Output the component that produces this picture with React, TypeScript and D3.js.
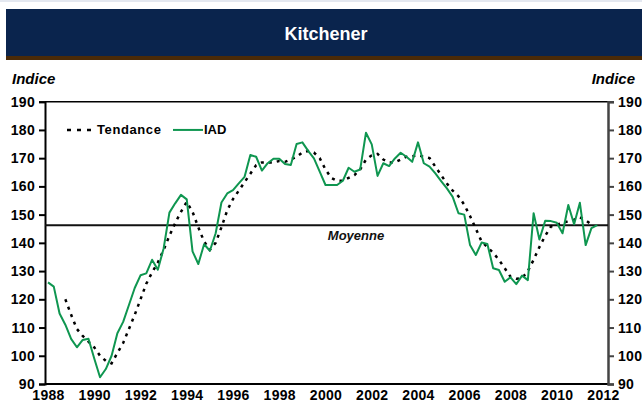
import React, { useRef, useEffect } from 'react';
import * as d3 from 'd3';

// quarterly values, first quarter = 1988 T1
const iadValues: number[] = [
  126, 124.5, 115, 111, 106, 103, 105.6, 106, 99, 92.4,
  95.3, 100, 108, 112, 118, 124, 128.5, 129.2, 134, 130.5,
  138, 150.7, 154, 157, 155.4, 137, 132.5, 139.5, 137.2, 143.4,
  154.3, 157.5, 158.7, 161.1, 163.4, 171.1, 170.5, 165.6, 168.2, 169.8,
  169.8, 167.9, 167.6, 175, 175.6, 172.6, 169.9, 165.2, 160.5, 160.5,
  160.5, 162, 166.6, 165.2, 166, 179, 174.9, 163.7, 168.2, 167.2,
  169.9, 171.9, 170.5, 168.7, 175.6, 168.2, 167, 164.6, 161.9, 159.3,
  156.3, 150.5, 150, 139.2, 135.7, 140.1, 139.6, 131, 130.4, 126.2,
  127.8, 125.4, 128.4, 126.8, 150.5, 141.2, 147.8, 147.7, 147.1, 143.4,
  153.4, 146.6, 154.2, 139.2, 145.2, 146.3,
];

// trend starts at 1988 T4
const tendanceStart = 3;
const tendanceValues: number[] = [
  120, 114.5, 109.5, 107, 105, 103, 100, 98.2, 97.3, 101,
  104.5, 109.5, 114.5, 120, 125.5, 129.5, 133, 137.5, 142.5, 147,
  151, 154.5, 151, 145.5, 140.5, 137.5, 140, 145.5, 151.5, 155.5,
  158.5, 161.5, 164.5, 167.5, 168.5, 168.5, 168.5, 169, 168.7, 169.5,
  170.5, 172, 172.5, 172, 170, 166, 163, 162, 162, 163,
  164, 166, 169.5, 171, 171.5, 169.5, 168.5, 168.5, 169.5, 170.5,
  170.7, 171, 170.5, 170, 167, 164, 161, 158.5, 156.5, 153.5,
  149.5, 145, 140.5, 138.5, 136.5, 134, 131, 128, 127.3, 127.5,
  130, 134, 138.5, 142.5, 145.8, 146.5, 147, 147.7, 148.2, 149,
  148, 146.5,
];

const moyenne = 146.2;
const yTicks = [90, 100, 110, 120, 130, 140, 150, 160, 170, 180, 190];
const yearTicks = [1988, 1990, 1992, 1994, 1996, 1998, 2000, 2002, 2004, 2006, 2008, 2010, 2012];

const W = 642;
const H = 404;
const FONT = '"Liberation Sans", Arial, sans-serif';
const GREEN = '#0f9650';

const App: React.FC = () => {
  const svgRef = useRef<SVGSVGElement | null>(null);

  useEffect(() => {
    if (!svgRef.current) return;
    const svg = d3.select(svgRef.current);
    svg.selectAll('*').remove();

    const left = 45;
    const right = 608;
    const top = 101.7;
    const bottom = 384;

    const x = d3.scaleLinear().domain([1988, 2012]).range([48, 603]);
    const y = d3.scaleLinear().domain([90, 190]).range([bottom, top]);

    // header band
    svg.append('rect').attr('x', 0).attr('y', 0).attr('width', W).attr('height', 2).attr('fill', '#e4e8f0');
    svg.append('rect').attr('x', 6).attr('y', 9).attr('width', W - 6).attr('height', 47).attr('fill', '#0a244d');
    svg.append('rect').attr('x', 6).attr('y', 56).attr('width', W - 6).attr('height', 4).attr('fill', '#4a2a08');
    svg.append('text')
      .attr('x', 326).attr('y', 40)
      .attr('text-anchor', 'middle')
      .attr('fill', '#ffffff')
      .attr('font-family', FONT)
      .attr('font-weight', 'bold')
      .attr('font-size', '18px')
      .text('Kitchener');

    // axis titles
    svg.append('text')
      .attr('x', 12).attr('y', 84)
      .attr('font-family', FONT).attr('font-weight', 'bold').attr('font-style', 'italic')
      .attr('font-size', '15px').attr('fill', '#000')
      .text('Indice');
    svg.append('text')
      .attr('x', 635).attr('y', 84)
      .attr('text-anchor', 'end')
      .attr('font-family', FONT).attr('font-weight', 'bold').attr('font-style', 'italic')
      .attr('font-size', '15px').attr('fill', '#000')
      .text('Indice');

    // frame
    svg.append('line').attr('x1', left).attr('x2', right).attr('y1', top).attr('y2', top)
      .attr('stroke', '#000').attr('stroke-width', 1.5);
    svg.append('line').attr('x1', left).attr('x2', right + 1).attr('y1', bottom).attr('y2', bottom)
      .attr('stroke', '#000').attr('stroke-width', 2);

    const styleTicks = (g: d3.Selection<SVGGElement, unknown, null, undefined>) => {
      g.selectAll('.tick text')
        .attr('font-family', FONT).attr('font-weight', 'bold').attr('font-size', '14px')
        .attr('letter-spacing', '0.3px').attr('fill', '#000');
    };

    const leftAxis = d3.axisLeft(y).tickValues(yTicks).tickSize(6).tickPadding(4);
    const lg = svg.append('g').attr('transform', `translate(${left},0)`).call(leftAxis);
    lg.select('.domain').attr('stroke', '#000').attr('stroke-width', 2);
    lg.selectAll('.tick line').attr('stroke', '#000').attr('stroke-width', 2);
    styleTicks(lg);

    const rightAxis = d3.axisRight(y).tickValues(yTicks).tickSize(6).tickPadding(4);
    const rg = svg.append('g').attr('transform', `translate(${right},0)`).call(rightAxis);
    rg.select('.domain').attr('stroke', '#444').attr('stroke-width', 2.5);
    rg.selectAll('.tick line').attr('stroke', '#444').attr('stroke-width', 2);
    styleTicks(rg);

    const bottomAxis = d3.axisBottom(x).tickValues(yearTicks).tickFormat(d3.format('d')).tickSize(0).tickPadding(6);
    const bg = svg.append('g').attr('transform', `translate(0,${bottom})`).call(bottomAxis);
    bg.select('.domain').remove();
    styleTicks(bg);

    // average line
    svg.append('line')
      .attr('x1', left).attr('x2', right)
      .attr('y1', y(moyenne)).attr('y2', y(moyenne))
      .attr('stroke', '#111').attr('stroke-width', 2);
    svg.append('text')
      .attr('x', 356).attr('y', y(moyenne) + 15)
      .attr('text-anchor', 'middle')
      .attr('font-family', FONT).attr('font-weight', 'bold').attr('font-style', 'italic')
      .attr('font-size', '13px').attr('fill', '#111')
      .text('Moyenne');

    const line = d3.line<[number, number]>()
      .x(d => x(d[0]))
      .y(d => y(d[1]));

    const iadPts: [number, number][] = iadValues.map((v, i) => [1988 + i / 4, v]);
    const tendPts: [number, number][] = tendanceValues.map((v, i) => [1988 + (i + tendanceStart) / 4, v]);

    svg.append('path')
      .datum(tendPts)
      .attr('d', line)
      .attr('fill', 'none')
      .attr('stroke', '#000')
      .attr('stroke-width', 2.5)
      .attr('stroke-dasharray', '3,5');

    svg.append('path')
      .datum(iadPts)
      .attr('d', line)
      .attr('fill', 'none')
      .attr('stroke', GREEN)
      .attr('stroke-width', 2)
      .attr('stroke-linejoin', 'round');

    // legend
    const ly = y(180);
    svg.append('line').attr('x1', 67).attr('x2', 96).attr('y1', ly).attr('y2', ly)
      .attr('stroke', '#000').attr('stroke-width', 2.5).attr('stroke-dasharray', '4,6');
    svg.append('text').attr('x', 97).attr('y', ly + 4.5)
      .attr('font-family', FONT).attr('font-weight', 'bold').attr('font-size', '13px')
      .attr('letter-spacing', '0.6px').attr('fill', '#000')
      .text('Tendance');
    svg.append('line').attr('x1', 173).attr('x2', 203).attr('y1', ly).attr('y2', ly)
      .attr('stroke', GREEN).attr('stroke-width', 2);
    svg.append('text').attr('x', 204).attr('y', ly + 4.5)
      .attr('font-family', FONT).attr('font-weight', 'bold').attr('font-size', '13px')
      .attr('fill', '#000')
      .text('IAD');
  }, []);

  return (
    <div style={{ position: 'fixed', left: 0, top: 0, width: W, height: H, background: '#fff' }}>
      <svg ref={svgRef} width={W} height={H}></svg>
    </div>
  );
};

export default App;
